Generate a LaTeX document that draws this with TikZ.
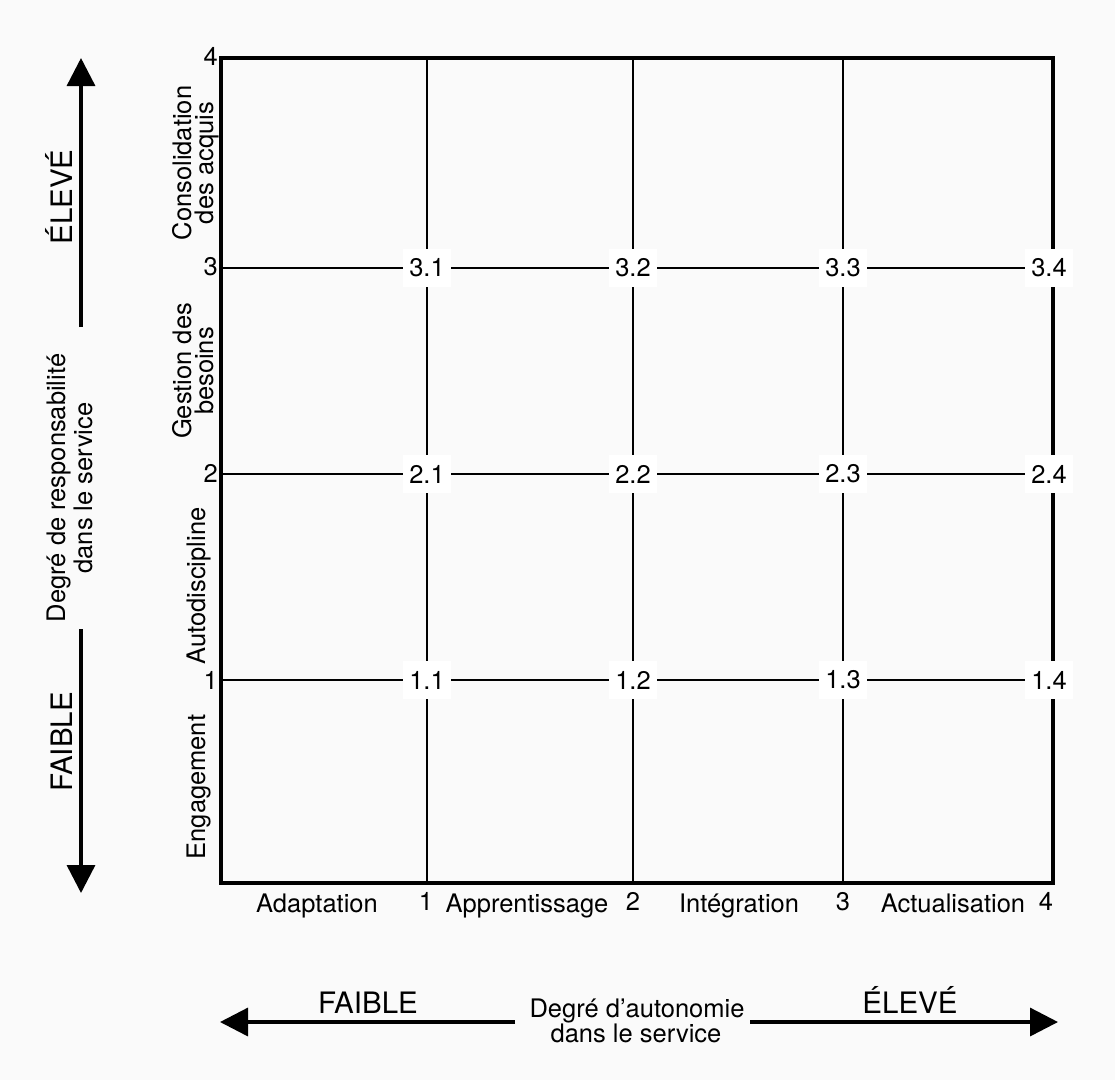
\documentclass[tikz,border=0pt]{standalone}
\usepackage{fontspec}
\setmainfont{TeX Gyre Heros}
\usetikzlibrary{arrows.meta}
\definecolor{paper}{gray}{0.982}
\begin{document}
\begin{tikzpicture}[x=1pt,y=-1pt,
  txt/.style={font=\fontsize{25.5}{28}\selectfont, inner sep=0pt},
  big/.style={font=\fontsize{29.5}{32}\selectfont, inner sep=0pt},
  side/.style={txt, rotate=90, anchor=base},
  cell/.style={txt, fill=white, inner xsep=6pt, inner ysep=10pt},
  frame/.style={line width=3.2pt},
  gridline/.style={line width=1.9pt},
  axis/.style={line width=3.4pt, -{Triangle[length=28pt,width=28pt]}},
]
\useasboundingbox (0,0) rectangle (1115,1080);
\fill[paper] (0,0) rectangle (1115,1080);

% grid points: column index, row index
\foreach \i/\xx in {0/221,1/427,2/633,3/843,4/1053}
  \foreach \j/\yy in {0/883,1/680,2/474,3/268,4/58}
    \coordinate (g-\i-\j) at (\xx,\yy);

% inner grid lines
\foreach \k in {1,2,3} {
  \draw[gridline] (g-0-\k) -- (g-4-\k);
  \draw[gridline] (g-\k-0) -- (g-\k-4);
}
% outer frame
\draw[frame, line join=miter] (g-0-0) rectangle (g-4-4);

% stage labels at the crossings
\foreach \j in {1,2,3} {
  \foreach \i in {1,2,3}
    \node[cell] (c-\j-\i) at (g-\i-\j) {\j.\i};
  \node[cell] (c-\j-4) at ([xshift=-4pt]g-4-\j) {\j.4};
}

% level numbers on the vertical scale
\node[txt, anchor=east] (v4) at (218,56) {4};
\node[txt, anchor=east] (v3) at (218,267) {3};
\node[txt, anchor=east] (v2) at (218,473) {2};
\node[txt, anchor=east] (v1) at (218,680) {1};

% level numbers on the horizontal scale
\node[txt, anchor=base] (h1) at (426,910) {1};
\node[txt, anchor=base] (h2) at (633,910) {2};
\node[txt, anchor=base] (h3) at (843,910) {3};
\node[txt, anchor=base] (h4) at (1046,910) {4};

% stage names along the bottom
\node[txt, anchor=base] (adapt) at (317,912) {Adaptation};
\node[txt, anchor=base] (appr) at (527,912) {Apprentissage};
\node[txt, anchor=base] (integ) at (739,912) {Intégration};
\node[txt, anchor=base] (actu) at (953,912) {Actualisation};

% stage names along the left side
\node[side] (consol-a) at (191,163) {Consolidation};
\node[side] (consol-b) at (213,163) {des acquis};
\node[side] (gest-a) at (191,371) {Gestion des};
\node[side] (gest-b) at (213,371) {besoins};
\node[side] (autod) at (205,586) {Autodiscipline};
\node[side] (engag) at (205,787) {Engagement};

% vertical axis
\coordinate (up-s) at (81,327);
\coordinate (up-e) at (81,58);
\coordinate (dn-s) at (81,629);
\coordinate (dn-e) at (81,893);
\draw[axis] (up-s) -- (up-e);
\draw[axis] (dn-s) -- (dn-e);
\node[big, rotate=90, anchor=base] (v-high) at (72,197) {ÉLEVÉ};
\node[big, rotate=90, anchor=base] (v-low) at (72,742) {FAIBLE};
\node[side] (v-title-a) at (65,488) {Degré de responsabilité};
\node[side] (v-title-b) at (92,488) {dans le service};

% horizontal axis
\coordinate (lt-s) at (515,1022);
\coordinate (lt-e) at (220,1022);
\coordinate (rt-s) at (750,1022);
\coordinate (rt-e) at (1058,1022);
\draw[axis] (lt-s) -- (lt-e);
\draw[axis] (rt-s) -- (rt-e);
\node[big, anchor=base] (h-low) at (368,1013) {FAIBLE};
\node[big, anchor=base] (h-high) at (910,1013) {ÉLEVÉ};
\node[txt, anchor=base] (h-title-a) at (637,1017) {Degré d'autonomie};
\node[txt, anchor=base] (h-title-b) at (636,1042) {dans le service};
\end{tikzpicture}
\end{document}
